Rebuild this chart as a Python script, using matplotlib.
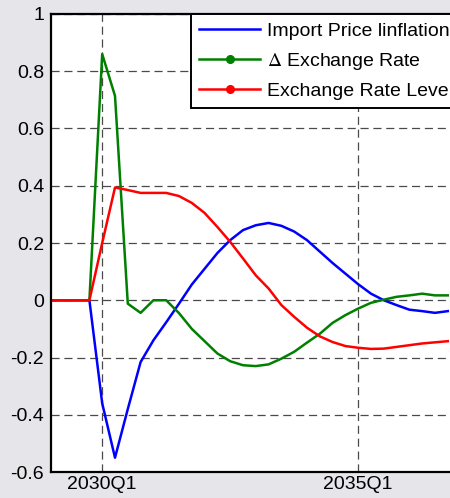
import matplotlib
matplotlib.use("Agg")
import matplotlib.pyplot as plt
from matplotlib.lines import Line2D

plt.rcParams['font.family'] = ['Liberation Sans', 'DejaVu Sans']
plt.rcParams['mathtext.fontset'] = 'stix'
plt.rcParams['axes.unicode_minus'] = False

# quarters starting 2029Q1
quarters = [f"{2029 + i // 4}Q{i % 4 + 1}" for i in range(32)]
import_price_inflation = [0, 0, 0, 0, -0.36, -0.55, -0.38, -0.216, -0.14, -0.077,
                          -0.012, 0.055, 0.11, 0.165, 0.21, 0.245, 0.262, 0.27,
                          0.26, 0.24, 0.21, 0.17, 0.13, 0.093, 0.056, 0.023, 0.0,
                          -0.017, -0.033, -0.038, -0.044, -0.038]
delta_exchange_rate = [0, 0, 0, 0, 0.86, 0.714, -0.012, -0.044, 0.0, 0.0,
                       -0.045, -0.1, -0.143, -0.186, -0.213, -0.227, -0.23, -0.224,
                       -0.204, -0.18, -0.148, -0.117, -0.079, -0.052, -0.029,
                       -0.009, 0.002, 0.012, 0.017, 0.023, 0.017, 0.017]
exchange_rate_level = [0, 0, 0, 0, 0.2, 0.394, 0.385, 0.375, 0.375, 0.375,
                       0.364, 0.34, 0.305, 0.256, 0.204, 0.146, 0.087, 0.041,
                       -0.017, -0.058, -0.096, -0.126, -0.146, -0.16, -0.166,
                       -0.17, -0.169, -0.163, -0.157, -0.151, -0.147, -0.143]
xtick_labels = ["2030Q1", "2035Q1"]
yticks = [-0.6, -0.4, -0.2, 0, 0.2, 0.4, 0.6, 0.8, 1]

W, H = 450, 498
fig = plt.figure(figsize=(W / 100, H / 100), dpi=100)
fig.patch.set_facecolor('#E5E5EA')

n_total = 36
ax = fig.add_axes([51 / W, (H - 472) / H, n_total * 12.8 / W, (472 - 14) / H])
ax.set_facecolor('white')

x = list(range(len(quarters)))
lw = 1.8
ax.plot(x, import_price_inflation, color='#0000FF', lw=lw)
ax.plot(x, delta_exchange_rate, color='#008000', lw=lw)
ax.plot(x, exchange_rate_level, color='#FF0000', lw=lw)

ax.set_xlim(0, n_total)
ax.set_ylim(-0.6, 1)
tick_pos = [quarters.index(q) for q in xtick_labels]
ax.set_xticks(tick_pos)
ax.set_xticklabels(xtick_labels)
ax.set_yticks(yticks)
ax.set_yticklabels([f"{v:g}" for v in yticks])
ax.tick_params(axis='both', labelsize=14, direction='in', length=0, colors='black', pad=5)
ax.tick_params(axis='x', pad=3)
ax.grid(True, color='#4a4a4a', linestyle=(0, (6.5, 3.8)), linewidth=0.9)
for s in ax.spines.values():
    s.set_linewidth(1.6)
    s.set_color('black')

handles = [
    Line2D([], [], color='#0000FF', lw=lw),
    Line2D([], [], color='#008000', lw=lw, marker='o', markersize=5.5),
    Line2D([], [], color='#FF0000', lw=lw, marker='o', markersize=5.5),
]
labels = ["Import Price linflation", r"$\Delta$ Exchange Rate", "Exchange Rate Level"]
leg = fig.legend(handles, labels, loc='upper left',
                 bbox_to_anchor=(191 / W, 1 - 14 / H), bbox_transform=fig.transFigure,
                 fontsize=14, frameon=True, fancybox=False, framealpha=1,
                 edgecolor='black', handlelength=3.15, handletextpad=0.36,
                 labelspacing=0.56, borderpad=0.42, borderaxespad=0)
leg.get_frame().set_linewidth(1.4)

fig.savefig('out.png', dpi=100, facecolor=fig.get_facecolor())
